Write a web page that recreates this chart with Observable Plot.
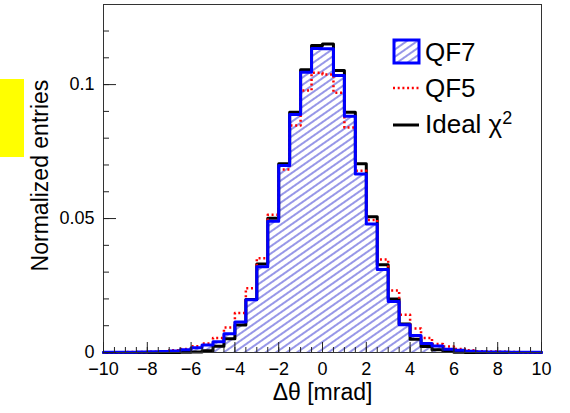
<!DOCTYPE html>
<html><head><meta charset="utf-8">
<script src="https://cdn.jsdelivr.net/npm/d3@7"></script>
<script src="https://cdn.jsdelivr.net/npm/@observablehq/plot@0.6"></script>
<style>
html,body{margin:0;padding:0;background:#fff;}
#chart{width:570px;height:413px;position:relative;}
</style></head><body><div id="chart"></div>
<script>
// bins: 40 bins of 0.5 mrad from -10 to 10 (lower edges)
const binLow = d3.range(40).map(i => -10 + i * 0.5);
const binWidth = 0.5;

const qf7 = [0.0001,0.0001,0.0001,0.0002,0.0003,0.0004,0.0006,0.0010,0.0018,0.0028,
             0.0040,0.0070,0.0114,0.0197,0.0320,0.0490,0.0698,0.0888,0.1046,0.1135,
             0.1134,0.1034,0.0882,0.0666,0.0480,0.0310,0.0190,0.0104,0.0063,0.0034,
             0.0024,0.0012,0.0008,0.0005,0.0003,0.0002,0.0002,0.0001,0.0001,0.0001];
const qf5 = [0.0001,0.0001,0.0002,0.0002,0.0003,0.0005,0.0008,0.0013,0.0023,0.0034,
             0.0054,0.0093,0.0147,0.0240,0.0352,0.0514,0.0683,0.0847,0.0978,0.1044,
             0.1038,0.0970,0.0840,0.0678,0.0495,0.0347,0.0231,0.0141,0.0090,0.0054,
             0.0032,0.0022,0.0013,0.0008,0.0005,0.0004,0.0003,0.0002,0.0001,0.0001];
const ideal = [0,0,0,0,0,0,0,0.0001,0.0002,0.0007,
               0.0023,0.0051,0.0103,0.0198,0.0330,0.0501,0.0705,0.0897,0.1055,0.1146,
               0.1152,0.1053,0.0897,0.0705,0.0507,0.0328,0.0200,0.0106,0.0049,0.0022,
               0.0010,0.0004,0.0001,0,0,0,0,0,0,0];

const xTickLabels = [-10,-8,-6,-4,-2,0,2,4,6,8,10];
const xMinorTicks = d3.range(41).map(i => -10 + i * 0.5);
const yTickLabels = [0, 0.05, 0.1];
const yMinorTicks = [0,0.01,0.02,0.03,0.04,0.05,0.06,0.07,0.08,0.09,0.1,0.11,0.12];
const legendLabels = ["QF7", "QF5", "Ideal"];
const xTitle = "Δθ [mrad]";
const yTitle = "Normalized entries";

function steps(vals) {
  const pts = [];
  vals.forEach((v, i) => {
    pts.push({x: binLow[i], y: v});
    pts.push({x: binLow[i] + binWidth, y: v});
  });
  return pts;
}

const W = 570, H = 413, mL = 103, mR = 29, mT = 4, mB = 61;
const pw = W - mL - mR, ph = H - mT - mB;
const font = "'Liberation Sans', Arial, Helvetica, sans-serif";

const svg = Plot.plot({
  width: W, height: H,
  marginLeft: mL, marginRight: mR, marginTop: mT, marginBottom: mB,
  style: {fontFamily: font, background: "white", color: "black"},
  x: {domain: [-10, 10], label: null},
  y: {domain: [0, 0.1299], label: null},
  marks: [
    Plot.area(steps(qf7), {x1: "x", y1: 0, y2: "y", fill: "url(#hatch)"}),
    Plot.line(steps(ideal), {x: "x", y: "y", stroke: "black", strokeWidth: 3}),
    Plot.line(steps(qf5), {x: "x", y: "y", stroke: "#ff0000", strokeWidth: 2.5, strokeDasharray: "2,2.7", strokeLinecap: "butt"}),
    Plot.line(steps(qf7), {x: "x", y: "y", stroke: "#0000ff", strokeWidth: 3}),
    Plot.frame({stroke: "#333", strokeWidth: 1}),
    Plot.tickX(xMinorTicks, {x: d => d, insetTop: ph - 5, stroke: "#222"}),
    Plot.tickX(xTickLabels, {x: d => d, insetTop: ph - 10, stroke: "#222"}),
    Plot.tickY(yMinorTicks, {y: d => d, insetRight: pw - 6, stroke: "#222"}),
    Plot.tickY(yTickLabels, {y: d => d, insetRight: pw - 13, stroke: "#222"}),
    Plot.axisX(xTickLabels, {anchor: "bottom", tickSize: 0, tickPadding: 10, fontSize: 18, label: null,
      tickFormat: d => d < 0 ? "\u2212" + (-d) : String(d)}),
    Plot.axisY(yTickLabels, {anchor: "left", tickSize: 0, tickPadding: 9, fontSize: 18, label: null,
      tickFormat: d => String(d)}),
    Plot.text([xTitle], {frameAnchor: "bottom", textAnchor: "middle", lineAnchor: "middle", dy: 40, fontSize: 23, text: d => d}),
    Plot.text([yTitle], {frameAnchor: "left", textAnchor: "middle", lineAnchor: "middle", rotate: -90, dx: -63, dy: -3, fontSize: 23, text: d => d})
  ]
});

const s = d3.select(svg);
const defs = s.insert("defs", ":first-child");
const pat = defs.append("pattern").attr("id", "hatch").attr("patternUnits", "userSpaceOnUse")
  .attr("width", 8).attr("height", 6).attr("patternTransform", "rotate(-35)");
pat.append("line").attr("x1", 0).attr("y1", 3).attr("x2", 8).attr("y2", 3)
  .attr("stroke", "#3030d0").attr("stroke-width", 1);

// yellow marker on the left edge
s.append("rect").attr("x", 0).attr("y", 79).attr("width", 24).attr("height", 78).attr("fill", "#ffff00");

// legend
const lg = s.append("g").attr("font-family", font).attr("font-size", 26).attr("fill", "black").attr("text-anchor", "start");
lg.append("rect").attr("x", 394).attr("y", 40).attr("width", 25).attr("height", 23)
  .attr("fill", "url(#hatch)").attr("stroke", "#0000ff").attr("stroke-width", 3);
lg.append("text").attr("x", 425).attr("y", 61).text(legendLabels[0]);
lg.append("line").attr("x1", 393).attr("x2", 420).attr("y1", 88).attr("y2", 88)
  .attr("stroke", "#ff0000").attr("stroke-width", 2.5).attr("stroke-dasharray", "2,2.7");
lg.append("text").attr("x", 425).attr("y", 97).text(legendLabels[1]);
lg.append("line").attr("x1", 393).attr("x2", 419).attr("y1", 125).attr("y2", 125)
  .attr("stroke", "black").attr("stroke-width", 3);
const t3 = lg.append("text").attr("x", 425).attr("y", 133);
t3.append("tspan").text(legendLabels[2] + " χ");
t3.append("tspan").attr("dy", -9).attr("font-size", 18).text("2");

document.getElementById("chart").appendChild(svg);
</script>
</body></html>
